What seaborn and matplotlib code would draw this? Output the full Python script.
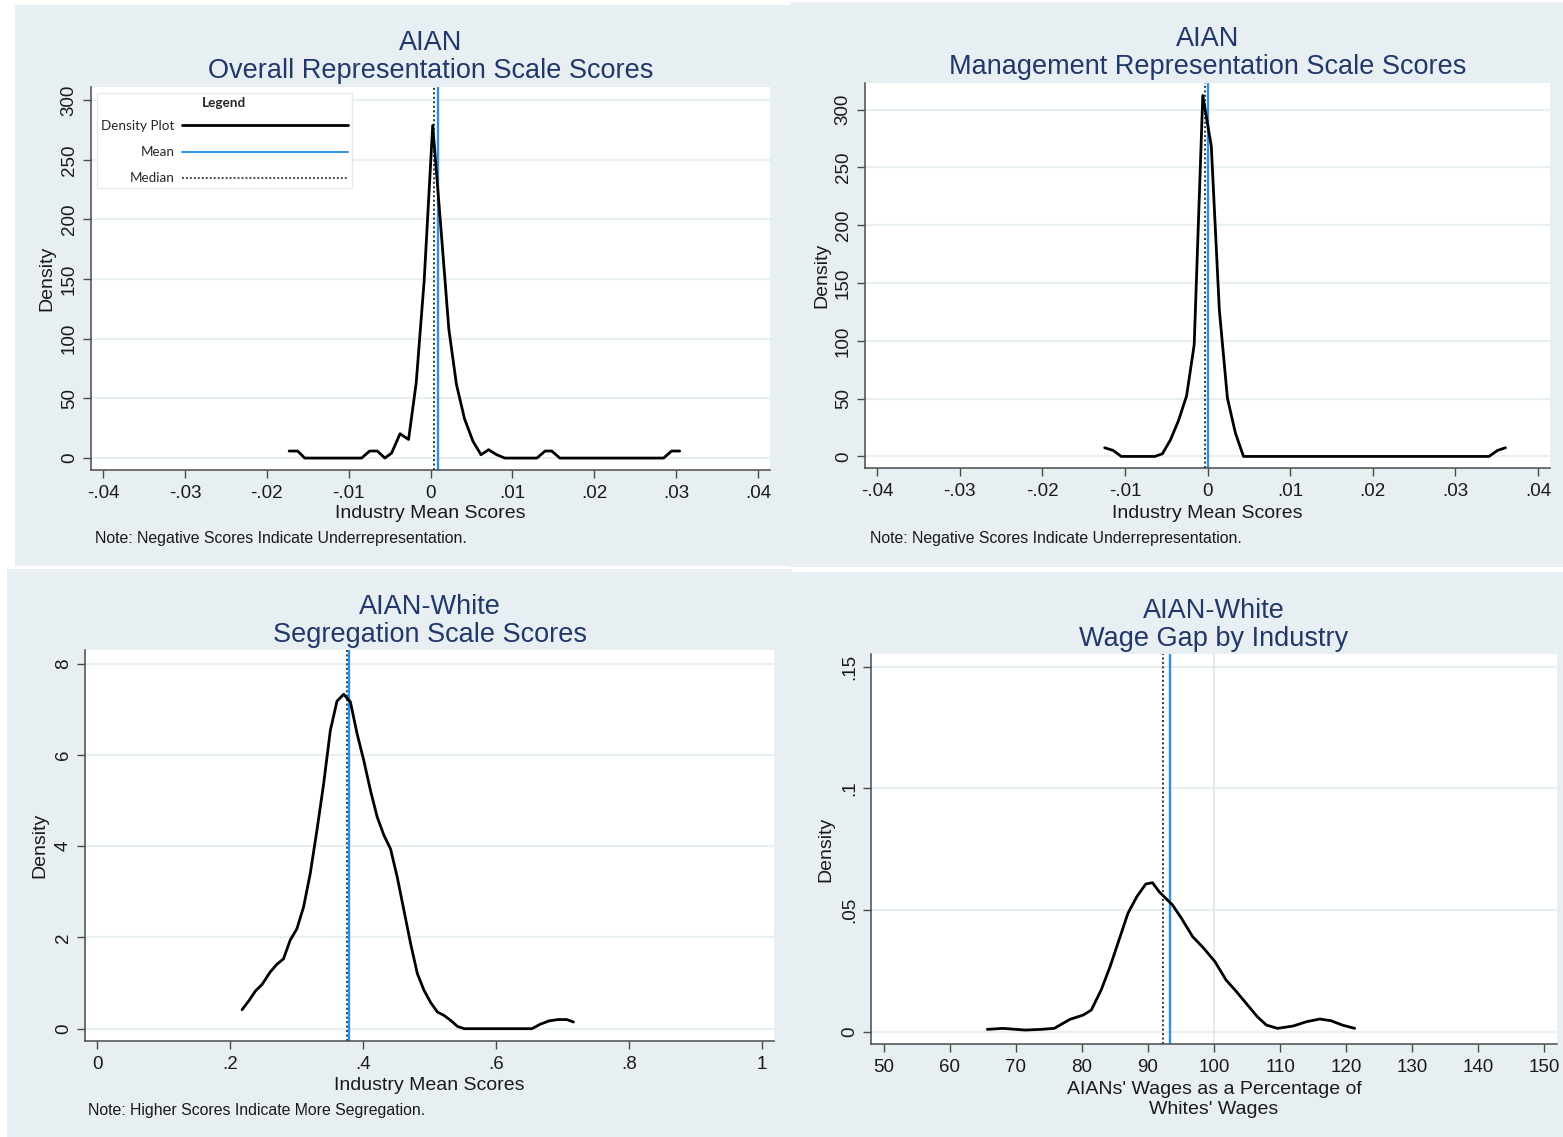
import numpy as np
import pandas as pd
import matplotlib
matplotlib.use("Agg")
import matplotlib.pyplot as plt
import seaborn as sns
from matplotlib.lines import Line2D
from matplotlib.patches import Rectangle

# ---------------- data ----------------
overall_x = [-0.01727, -0.01623, -0.01536, -0.00842, -0.00743, -0.00650, -0.00557, -0.00475,
             -0.00372, -0.00268, -0.00175, -0.00077, 0.00027, 0.00120, 0.00224, 0.00317,
             0.00415, 0.00519, 0.00617, 0.00710, 0.00809, 0.00907, 0.01300, 0.01400,
             0.01481, 0.01580, 0.02847, 0.02945, 0.03044]
overall_y = [5.9, 5.9, 0, 0, 5.9, 5.9, 0, 4.2, 20.4, 15.6, 62.8, 149, 278.8, 199, 108, 61.7,
             33, 14, 2.8, 7, 2.8, 0, 0, 5.9, 5.9, 0, 0, 5.9, 5.9]
overall_mean, overall_median = 0.00086, 0.00037

mgmt_x = [-0.01245, -0.01142, -0.01044, -0.00638, -0.00546, -0.00448, -0.00350, -0.00253,
          -0.00161, -0.00057, 0.00046, 0.00143, 0.00241, 0.00338, 0.00436, 0.03408,
          0.03511, 0.03608]
mgmt_y = [7.5, 5.2, 0, 0, 2.3, 14.4, 31.2, 52.5, 96.7, 312.2, 268.3, 127, 50.5, 20.2, 0, 0,
          5.2, 7.5]
mgmt_mean, mgmt_median = 0.00002, -0.00025

seg_x = [0.2176, 0.2283, 0.2377, 0.2478, 0.2599, 0.2700, 0.2800, 0.2901, 0.3002, 0.3103,
         0.3203, 0.3304, 0.3405, 0.3506, 0.3606, 0.3707, 0.3808, 0.3909, 0.4009, 0.4110,
         0.4211, 0.4312, 0.4412, 0.4513, 0.4614, 0.4715, 0.4815, 0.4916, 0.5017, 0.5118,
         0.5218, 0.5319, 0.5420, 0.5521, 0.6541, 0.6662, 0.6797, 0.6931, 0.7065, 0.7166]
seg_y = [0.416, 0.62, 0.825, 0.97, 1.24, 1.41, 1.53, 1.94, 2.19, 2.67, 3.40, 4.35, 5.37, 6.54,
         7.18, 7.33, 7.16, 6.46, 5.88, 5.22, 4.64, 4.24, 3.94, 3.32, 2.59, 1.86, 1.21, 0.84,
         0.57, 0.365, 0.29, 0.18, 0.05, 0, 0, 0.095, 0.17, 0.2, 0.2, 0.146]
seg_mean, seg_median = 0.3794, 0.3754

wage_x = [65.68, 68.04, 71.42, 73.78, 75.81, 78.18, 80.20, 81.42, 82.91, 84.26, 85.61, 86.96,
          88.31, 89.66, 90.68, 91.69, 92.70, 93.72, 95.07, 96.76, 98.45, 100.14, 101.82,
          103.18, 104.86, 106.55, 107.91, 109.59, 111.96, 113.99, 116.01, 117.70, 119.39,
          121.28]
wage_y = [0.00096, 0.00137, 0.00068, 0.00096, 0.00137, 0.00507, 0.00685, 0.0089, 0.01712,
          0.02671, 0.03767, 0.04863, 0.05548, 0.06068, 0.06123, 0.05753, 0.05479, 0.05205,
          0.04658, 0.03904, 0.03425, 0.02877, 0.02123, 0.01712, 0.01164, 0.00616, 0.00274,
          0.00137, 0.00233, 0.00411, 0.00521, 0.00452, 0.00274, 0.00137]
wage_mean, wage_median = 93.31, 92.3
wage_refline = 100

rep_xticks = [-0.04, -0.03, -0.02, -0.01, 0, 0.01, 0.02, 0.03, 0.04]
rep_xticklabels = ["-.04", "-.03", "-.02", "-.01", "0", ".01", ".02", ".03", ".04"]
rep_yticks = [0, 50, 100, 150, 200, 250, 300]
rep_yticklabels = ["0", "50", "100", "150", "200", "250", "300"]
seg_xticks = [0, 0.2, 0.4, 0.6, 0.8, 1]
seg_xticklabels = ["0", ".2", ".4", ".6", ".8", "1"]
seg_yticks = [0, 2, 4, 6, 8]
seg_yticklabels = ["0", "2", "4", "6", "8"]
wage_xticks = [50, 60, 70, 80, 90, 100, 110, 120, 130, 140, 150]
wage_xticklabels = [str(v) for v in wage_xticks]
wage_yticks = [0, 0.05, 0.1, 0.15]
wage_yticklabels = ["0", ".05", ".1", ".15"]

legend_labels = ["Density Plot", "Mean", "Median"]

# ---------------- style ----------------
sns.set_theme(style="white")
plt.rcParams["font.family"] = ["Liberation Sans", "DejaVu Sans"]

W, H = 1563, 1137
BG = "#e8eff2"
GRID = "#e9f0f3"
TITLE_C = "#22376a"
SPINE_C = "#4a4a4a"
MEAN_C = "#2b91ea"

fig = plt.figure(figsize=(W / 100, H / 100), dpi=100, facecolor="white")


def fx(x):
    return x / W


def fy(y):
    return 1 - y / H


def add_bg(x0, y0, x1, y1):
    fig.add_artist(Rectangle((fx(x0), fy(y1)), (x1 - x0) / W, (y1 - y0) / H,
                             transform=fig.transFigure, facecolor=BG,
                             edgecolor="none", zorder=-10))


add_bg(15, 5, 790, 566)
add_bg(790, 2, 1563, 567)
add_bg(7, 569, 792, 1137)
add_bg(792, 572, 1563, 1137)


def panel(box, xs, ys, mean, median, xlim, ylim, xticks, xtl, yticks, ytl,
          title2, title1, tpos, xlabel_lines, xlab_y, ylab_x, note=None, note_pos=None,
          refline=None):
    l, t, r, b = box
    ax = fig.add_axes([fx(l), fy(b), (r - l) / W, (b - t) / H])
    ax.set_facecolor("white")
    df = pd.DataFrame({"x": xs, "y": ys})
    ax.axvline(median, color="#333333", lw=1.4, ls=(0, (1, 1.3)), zorder=2)
    ax.axvline(mean, color=MEAN_C, lw=1.7, zorder=2.1)
    if refline is not None:
        ax.axvline(refline, color="#dde7eb", lw=1.2, zorder=1)
    sns.lineplot(data=df, x="x", y="y", sort=False, estimator=None, color="black",
                 lw=2.0, ax=ax, zorder=3)
    ax.set_xlim(*xlim)
    ax.set_ylim(*ylim)
    ax.set_xticks(xticks)
    ax.set_xticklabels(xtl, fontsize=13.5, color="#1a1a1a")
    ax.set_yticks(yticks)
    ax.set_yticklabels(ytl, fontsize=13.5, color="#1a1a1a", rotation=90, va="center")
    ax.set_xlabel("")
    ax.set_ylabel("")
    ax.grid(axis="y", color=GRID, lw=1.6)
    ax.grid(axis="x", visible=False)
    ax.set_axisbelow(True)
    for s in ["top", "right"]:
        ax.spines[s].set_visible(False)
    for s in ["left", "bottom"]:
        ax.spines[s].set_color(SPINE_C)
        ax.spines[s].set_linewidth(1.1)
    ax.tick_params(axis="x", direction="out", length=6, width=1.0, color=SPINE_C,
                   pad=5, bottom=True)
    ax.tick_params(axis="y", direction="out", length=5.5, width=1.0, color=SPINE_C,
                   pad=4, left=True)
    cx = (l + r) / 2
    fig.text(fx(cx), fy(tpos[0] + 2.5), title1, ha="center", va="center", fontsize=19.5,
             color=TITLE_C)
    fig.text(fx(cx), fy(tpos[1] + 2.5), title2, ha="center", va="center", fontsize=19.5,
             color=TITLE_C)
    for i, line in enumerate(xlabel_lines):
        fig.text(fx(cx), fy(xlab_y + 2 + 20 * i), line, ha="center", va="center",
                 fontsize=14, color="#1a1a1a")
    fig.text(fx(ylab_x), fy((t + b) / 2), "Density", ha="center", va="center",
             rotation=90, fontsize=14, color="#1a1a1a")
    if note:
        fig.text(fx(note_pos[0]), fy(note_pos[1] + 1), note, ha="left", va="center",
                 fontsize=11.4, color="#1a1a1a")
    return ax


note_rep = "Note: Negative Scores Indicate Underrepresentation."

ax1 = panel((91, 87, 770, 470), overall_x, overall_y, overall_mean, overall_median,
            (-0.04147, 0.04147), (-10, 311), rep_xticks, rep_xticklabels, rep_yticks,
            rep_yticklabels, "Overall Representation Scale Scores", "AIAN", (41, 69),
            ["Industry Mean Scores"], 512, 47, note_rep, (95, 537))

ax2 = panel((865, 83, 1550, 468), mgmt_x, mgmt_y, mgmt_mean, mgmt_median,
            (-0.04147, 0.04147), (-10, 323), rep_xticks, rep_xticklabels, rep_yticks,
            rep_yticklabels, "Management Representation Scale Scores", "AIAN", (37, 65),
            ["Industry Mean Scores"], 511, 822, note_rep, (870, 537))

ax3 = panel((85, 650, 774, 1041), seg_x, seg_y, seg_mean, seg_median,
            (-0.0188, 1.0185), (-0.27, 8.3), seg_xticks, seg_xticklabels, seg_yticks,
            seg_yticklabels, "Segregation Scale Scores", "AIAN-White", (604, 632),
            ["Industry Mean Scores"], 1084, 40,
            "Note: Higher Scores Indicate More Segregation.", (88, 1110))

ax4 = panel((871, 654, 1557, 1044), wage_x, wage_y, wage_mean, wage_median,
            (48.08, 151.9), (-0.00505, 0.1552), wage_xticks, wage_xticklabels,
            wage_yticks, wage_yticklabels, "Wage Gap by Industry", "AIAN-White",
            (608, 636), ["AIANs' Wages as a Percentage of", "Whites' Wages"], 1088, 826,
            refline=wage_refline)

# legend on first panel
handles = [Line2D([], [], color="black", lw=2.0),
           Line2D([], [], color=MEAN_C, lw=1.4),
           Line2D([], [], color="#333333", lw=1.3, ls=(0, (1, 1.2)))]
leg = ax1.legend(handles, legend_labels, title="Legend", loc="upper left",
                 bbox_to_anchor=(fx(97), fy(93)), bbox_transform=fig.transFigure,
                 borderaxespad=0, markerfirst=False, handlelength=12.3,
                 handletextpad=0.55, labelspacing=1.05, borderpad=0.3,
                 fancybox=False, frameon=True,
                 prop={"family": ["Lato", "DejaVu Sans"], "size": 9.7},
                 title_fontproperties={"family": ["Lato", "DejaVu Sans"], "size": 9.7,
                                       "weight": "bold"})
leg._legend_box.sep = 8
leg.get_frame().set_edgecolor("#e6eaec")
leg.get_frame().set_linewidth(1.0)
leg.get_frame().set_facecolor("white")
leg.get_frame().set_alpha(1)

fig.savefig("out.png", dpi=100, facecolor="white")
